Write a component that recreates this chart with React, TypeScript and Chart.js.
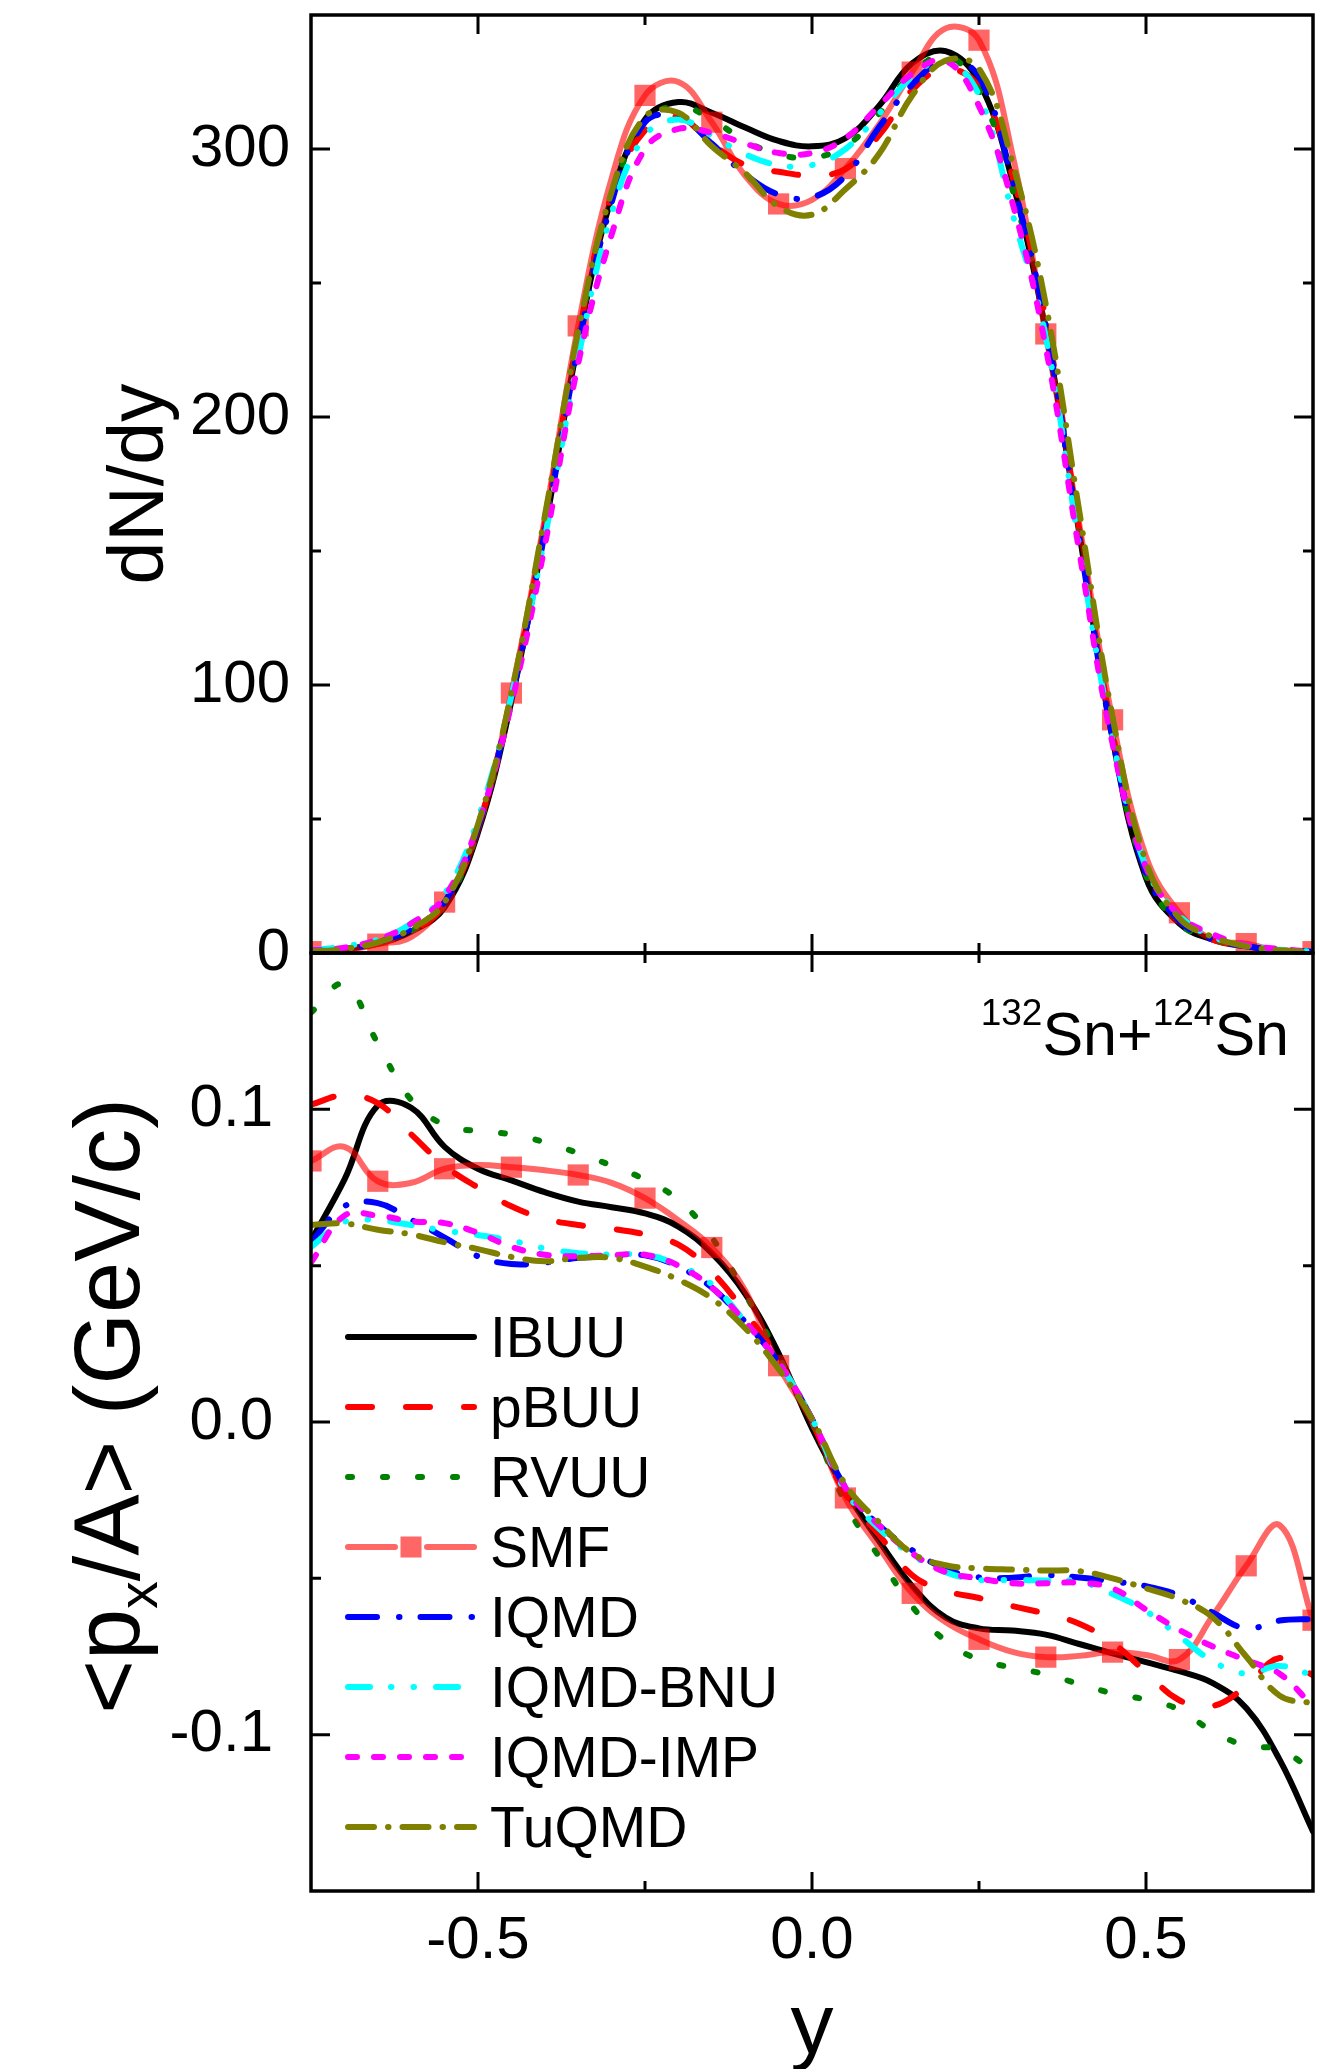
import React, { useEffect, useRef } from "react";
import { Chart, registerables } from "chart.js";

Chart.register(...registerables);

const W = 1337;
const H = 2069;
const FONT = "'Liberation Sans', Arial, Helvetica, sans-serif";

// ---------------- data ----------------
const rapidity = [
  -0.75, -0.7, -0.65, -0.6, -0.55, -0.5, -0.45, -0.4, -0.35, -0.3, -0.25, -0.2, -0.15, -0.1, -0.05, 0,
  0.05, 0.1, 0.15, 0.2, 0.25, 0.3, 0.35, 0.4, 0.45, 0.5, 0.55, 0.6, 0.65, 0.7, 0.75,
];

const modelNames = ["IBUU", "pBUU", "RVUU", "SMF", "IQMD", "IQMD-BNU", "IQMD-IMP", "TuQMD"];

// dN/dy (upper panel)
const dndyIBUU = [0.5, 1.5, 3.5, 8, 17, 45, 94, 158, 228, 282, 311, 317.5, 313.5, 308, 303, 301, 304, 316, 332, 336.5, 325, 288, 232, 157, 80, 28, 11, 5, 2.5, 1, 0.3];
const dndyPBUU = [0.5, 1.5, 3.5, 8, 18, 47, 96, 160, 230, 283, 307, 312, 302, 294, 291.5, 290.2, 292.5, 305, 322, 330, 323, 290, 236, 158, 82, 30, 12, 5, 2.5, 1, 0.3];
const dndyRVUU = [0.5, 1.5, 3.5, 8, 18, 46, 95, 160, 230, 282, 310, 316, 311, 303, 298, 296.8, 301, 313, 328, 335, 322, 285, 234, 157, 81, 29, 11, 5, 2.5, 1, 0.3];
const dndySMF = [0.5, 1, 3.3, 6, 19, 46, 97, 162, 234, 289, 320, 325, 310, 290, 279.5, 281, 292.7, 309, 328.7, 345, 340.6, 298, 231, 160, 87, 36, 15, 5, 3.5, 0.8, 0.5];
const dndyIQMD = [0.5, 1.5, 4, 9, 19, 47, 95, 157, 226, 280, 310, 312, 302, 290.5, 283, 282, 290, 308, 324, 333, 327, 288, 234, 155, 80, 30, 12, 5, 2.5, 1, 0.5];
const dndyIQMDBNU = [1, 2.5, 5, 11, 22, 50, 96, 155, 222, 276, 305, 311, 305, 298, 294, 294, 300, 313, 327, 333, 320, 276, 230, 152, 80, 32, 14, 6, 3, 1.2, 0.5];
const dndyIQMDIMP = [1, 2, 5, 11, 21, 48, 93, 152, 220, 268, 300, 307.5, 306, 302, 298.5, 298.5, 304, 316, 328, 333, 316, 280, 226, 150, 78, 32, 14, 7, 3, 1.5, 0.5];
const dndyTuQMD = [0.5, 1.5, 4, 9, 19, 48, 97, 163, 232, 284, 312, 313.5, 301, 291, 278.5, 275.5, 285, 298, 320, 333, 330, 295, 242, 165, 88, 34, 13, 6, 2.5, 1, 0.3];

// <px/A> (lower panel)
const pxIBUU = [0.058, 0.0775, 0.1012, 0.1005, 0.088, 0.081, 0.0773, 0.0735, 0.0705, 0.0687, 0.0667, 0.0625, 0.054, 0.041, 0.022, -0.002, -0.022, -0.038, -0.0525, -0.0625, -0.066, -0.0667, -0.068, -0.071, -0.074, -0.0768, -0.0797, -0.0835, -0.0915, -0.108, -0.131];
const pxPBUU = [0.1015, 0.1045, 0.102, 0.092, 0.082, 0.075, 0.069, 0.065, 0.063, 0.0618, 0.06, 0.0567, 0.048, 0.035, 0.02, 0.0, -0.023, -0.036, -0.049, -0.054, -0.0563, -0.0589, -0.0613, -0.0645, -0.0706, -0.08, -0.089, -0.0908, -0.0845, -0.0755, -0.081];
const pxRVUU = [0.131, 0.14, 0.121, 0.103, 0.095, 0.093, 0.092, 0.0895, 0.086, 0.082, 0.0775, 0.071, 0.059, 0.041, 0.021, 0.0, -0.026, -0.043, -0.059, -0.07, -0.076, -0.0785, -0.0807, -0.0838, -0.0868, -0.0888, -0.092, -0.099, -0.1035, -0.1048, -0.1115];
const pxSMF = [0.0835, 0.088, 0.077, 0.0765, 0.081, 0.0822, 0.0815, 0.0805, 0.079, 0.0765, 0.0716, 0.0645, 0.0558, 0.042, 0.018, 0.0, -0.0243, -0.04, -0.0548, -0.064, -0.0695, -0.0735, -0.0752, -0.0748, -0.0736, -0.0745, -0.076, -0.062, -0.046, -0.033, -0.0634];
const pxIQMD = [0.0575, 0.069, 0.07, 0.0647, 0.059, 0.053, 0.0505, 0.051, 0.0525, 0.053, 0.0533, 0.0497, 0.043, 0.032, 0.019, 0.001, -0.021, -0.033, -0.041, -0.047, -0.0497, -0.0498, -0.049, -0.0497, -0.051, -0.0525, -0.0555, -0.061, -0.066, -0.0635, -0.063];
const pxIQMDBNU = [0.056, 0.064, 0.0645, 0.063, 0.0612, 0.0598, 0.058, 0.0555, 0.054, 0.0535, 0.0535, 0.0502, 0.044, 0.032, 0.019, 0.001, -0.022, -0.034, -0.0425, -0.048, -0.0505, -0.0505, -0.0507, -0.051, -0.055, -0.0605, -0.0685, -0.0765, -0.0805, -0.078, -0.081];
const pxIQMDIMP = [0.051, 0.066, 0.066, 0.0642, 0.0636, 0.0605, 0.056, 0.0535, 0.053, 0.0533, 0.0535, 0.05, 0.043, 0.032, 0.019, 0.001, -0.021, -0.033, -0.042, -0.048, -0.05, -0.0516, -0.0516, -0.0514, -0.0532, -0.06, -0.0665, -0.0718, -0.0762, -0.0805, -0.091];
const pxTuQMD = [0.063, 0.0635, 0.0615, 0.06, 0.0575, 0.0553, 0.0528, 0.0514, 0.0525, 0.0525, 0.0497, 0.0455, 0.0395, 0.03, 0.017, 0.001, -0.02, -0.032, -0.042, -0.0458, -0.0468, -0.0472, -0.0475, -0.0477, -0.05, -0.0532, -0.0567, -0.0625, -0.075, -0.0875, -0.09];

const smfMarkerRapidities = [-0.75, -0.65, -0.55, -0.45, -0.35, -0.25, -0.15, -0.05, 0.05, 0.15, 0.25, 0.35, 0.45, 0.55, 0.65, 0.75];

const dndyMajorTicks = [0, 100, 200, 300];
const dndyMinorTicks = [50, 150, 250];
const pxMajorTicks = [-0.1, 0.0, 0.1];
const pxMinorTicks = [-0.05, 0.05];
const rapidityMajorTicks = [-0.5, 0.0, 0.5];
const rapidityMinorTicks = [-0.25, 0.25];

// ---------------- styles ----------------
const modelColors = ["#000000", "#FF0000", "#008000", "rgba(255,0,0,0.6)", "#0000FF", "#00FFFF", "#FF00FF", "#808000"];
const modelDashes = [[], [24, 34], [4, 31], [], [29, 22, 0.5, 21], [22, 21, 0.5, 22, 0.5, 22], [9, 17], [26, 14, 0.5, 14]];

const isMarker = (x: number) => smfMarkerRapidities.some((m) => Math.abs(m - x) < 1e-9);

function buildDatasets(series: number[][]) {
  return modelNames.map((name, i) => ({
    label: name,
    data: rapidity.map((x, j) => ({ x, y: series[i][j] })),
    borderColor: modelColors[i],
    backgroundColor: modelColors[i],
    borderWidth: 6,
    borderDash: modelDashes[i],
    borderCapStyle: "round",
    borderJoinStyle: "round",
    tension: 0.4,
    pointStyle: "rect",
    pointRadius: name === "SMF" ? rapidity.map((x) => (isMarker(x) ? 15 : 0)) : 0,
    pointHoverRadius: 0,
    pointBorderWidth: 0,
    pointBackgroundColor: modelColors[i],
    pointBorderColor: modelColors[i],
    fill: false,
    clip: 0,
    order: modelNames.length - i,
  }));
}

const setTicks = (values: number[]) => (scale: any) => {
  scale.ticks = values.map((v) => ({ value: v }));
};

function framePlugin(xMajor: number[], xMinor: number[], yMajor: number[], yMinor: number[]) {
  return {
    id: "frameTicks",
    afterDatasetsDraw(chart: any) {
      const { ctx, chartArea: a } = chart;
      const xs = chart.scales.x;
      const ys = chart.scales.y;
      ctx.save();
      ctx.strokeStyle = "#000";
      ctx.lineWidth = 3;
      ctx.setLineDash([]);
      ctx.beginPath();
      const vt = (vals: number[], len: number) =>
        vals.forEach((v) => {
          const p = xs.getPixelForValue(v);
          ctx.moveTo(p, a.bottom);
          ctx.lineTo(p, a.bottom - len);
          ctx.moveTo(p, a.top);
          ctx.lineTo(p, a.top + len);
        });
      const ht = (vals: number[], len: number) =>
        vals.forEach((v) => {
          const p = ys.getPixelForValue(v);
          ctx.moveTo(a.left, p);
          ctx.lineTo(a.left + len, p);
          ctx.moveTo(a.right, p);
          ctx.lineTo(a.right - len, p);
        });
      vt(xMajor, 19);
      vt(xMinor, 10);
      ht(yMajor, 19);
      ht(yMinor, 10);
      ctx.stroke();
      ctx.lineWidth = 3.5;
      ctx.strokeRect(a.left, a.top, a.right - a.left, a.bottom - a.top);
      ctx.restore();
    },
  };
}

type Seg = { t: string; s: number; dy: number };
function drawRich(ctx: CanvasRenderingContext2D, segs: Seg[], x: number, y: number, angle: number, align: string) {
  ctx.save();
  ctx.translate(x, y);
  ctx.rotate(angle);
  ctx.fillStyle = "#000";
  ctx.textBaseline = "alphabetic";
  ctx.textAlign = "left";
  const widths = segs.map((s) => {
    ctx.font = `${s.s}px ${FONT}`;
    return ctx.measureText(s.t).width;
  });
  const total = widths.reduce((p, c) => p + c, 0);
  let cx = align === "center" ? -total / 2 : align === "right" ? -total : 0;
  segs.forEach((s, i) => {
    ctx.font = `${s.s}px ${FONT}`;
    ctx.fillText(s.t, cx, s.dy);
    cx += widths[i];
  });
  ctx.restore();
}

const lowerDecorPlugin = {
  id: "lowerDecor",
  afterDraw(chart: any) {
    const { ctx, chartArea: a } = chart;
    // legend
    const x0 = a.left + 37;
    const x1 = a.left + 163;
    const tx = a.left + 179;
    chart.data.datasets.forEach((ds: any, i: number) => {
      const yy = a.top + 384 + i * 70;
      ctx.save();
      ctx.strokeStyle = ds.borderColor;
      ctx.lineWidth = 6;
      ctx.lineCap = "round";
      ctx.setLineDash(ds.borderDash || []);
      ctx.beginPath();
      if (ds.label === "SMF") {
        const mid = (x0 + x1) / 2;
        ctx.moveTo(x0, yy);
        ctx.lineTo(mid - 16, yy);
        ctx.moveTo(mid + 16, yy);
        ctx.lineTo(x1, yy);
        ctx.stroke();
        ctx.fillStyle = ds.pointBackgroundColor;
        ctx.fillRect(mid - 10.5, yy - 10.5, 21, 21);
      } else {
        ctx.moveTo(x0, yy);
        ctx.lineTo(x1, yy);
        ctx.stroke();
      }
      ctx.fillStyle = "#000";
      ctx.font = `57px ${FONT}`;
      ctx.textBaseline = "alphabetic";
      ctx.textAlign = "left";
      ctx.fillText(ds.label, tx, yy + 20);
      ctx.restore();
    });
    // reaction label
    drawRich(
      ctx,
      [
        { t: "132", s: 37, dy: -30 },
        { t: "Sn+", s: 61, dy: 0 },
        { t: "124", s: 37, dy: -30 },
        { t: "Sn", s: 61, dy: 0 },
      ],
      a.right - 24,
      a.top + 102,
      0,
      "right"
    );
    // y-axis title with subscript
    drawRich(
      ctx,
      [
        { t: "<p", s: 92, dy: 0 },
        { t: "x", s: 55, dy: 18 },
        { t: "/A> (GeV/c)", s: 92, dy: 0 },
      ],
      a.left - 172,
      (a.top + a.bottom) / 2 - 16,
      -Math.PI / 2,
      "center"
    );
  },
};

export default function App() {
  const topRef = useRef<HTMLCanvasElement>(null);
  const botRef = useRef<HTMLCanvasElement>(null);

  useEffect(() => {
    Chart.defaults.font.family = FONT;
    Chart.defaults.color = "#000";

    const topSeries = [dndyIBUU, dndyPBUU, dndyRVUU, dndySMF, dndyIQMD, dndyIQMDBNU, dndyIQMDIMP, dndyTuQMD];
    const botSeries = [pxIBUU, pxPBUU, pxRVUU, pxSMF, pxIQMD, pxIQMDBNU, pxIQMDIMP, pxTuQMD];

    const common = {
      animation: false,
      responsive: false,
      maintainAspectRatio: false,
      devicePixelRatio: 1,
      events: [],
    };

    const fitY = (s: any) => {
      s.width = 311;
      s.paddingTop = 0;
      s.paddingBottom = 0;
    };

    const c1 = new Chart(topRef.current as HTMLCanvasElement, {
      type: "line",
      data: { datasets: buildDatasets(topSeries) as any },
      options: {
        ...common,
        layout: { padding: { left: 0, top: 14, right: 24, bottom: H - 953 } },
        plugins: { legend: { display: false }, tooltip: { enabled: false } },
        scales: {
          x: {
            type: "linear",
            min: -0.75,
            max: 0.75,
            afterBuildTicks: setTicks(rapidityMajorTicks),
            afterFit: (s: any) => {
              s.height = 0;
              s.paddingLeft = 0;
              s.paddingRight = 0;
            },
            grid: { display: false, drawTicks: false },
            border: { display: false },
            ticks: { display: false },
          },
          y: {
            type: "linear",
            min: 0,
            max: 350,
            afterBuildTicks: setTicks(dndyMajorTicks),
            afterFit: fitY,
            grid: { display: false, drawTicks: false },
            border: { display: false },
            ticks: {
              padding: 21,
              color: "#000",
              font: { size: 60, family: FONT },
              callback: (v: any) => String(v),
            },
            title: {
              display: true,
              text: "dN/dy",
              color: "#000",
              font: { size: 77, family: FONT },
              padding: { top: 96, bottom: 0 },
            },
          },
        },
      } as any,
      plugins: [framePlugin(rapidityMajorTicks, rapidityMinorTicks, dndyMajorTicks, dndyMinorTicks)],
    });

    const c2 = new Chart(botRef.current as HTMLCanvasElement, {
      type: "line",
      data: { datasets: buildDatasets(botSeries) as any },
      options: {
        ...common,
        layout: { padding: { left: 0, top: 953, right: 24, bottom: 0 } },
        plugins: { legend: { display: false }, tooltip: { enabled: false } },
        scales: {
          x: {
            type: "linear",
            min: -0.75,
            max: 0.75,
            afterBuildTicks: setTicks(rapidityMajorTicks),
            afterFit: (s: any) => {
              s.height = H - 1891;
              s.paddingLeft = 0;
              s.paddingRight = 0;
            },
            grid: { display: false, drawTicks: false },
            border: { display: false },
            ticks: {
              padding: 14,
              autoSkip: false,
              maxRotation: 0,
              minRotation: 0,
              color: "#000",
              font: { size: 60, family: FONT },
              callback: (v: any) => Number(v).toFixed(1),
            },
            title: {
              display: true,
              text: "y",
              color: "#000",
              font: { size: 86, family: FONT },
              padding: { top: 0, bottom: -12 },
            },
          },
          y: {
            type: "linear",
            min: -0.15,
            max: 0.15,
            afterBuildTicks: setTicks(pxMajorTicks),
            afterFit: fitY,
            grid: { display: false, drawTicks: false },
            border: { display: false },
            ticks: {
              padding: 38,
              color: "#000",
              font: { size: 60, family: FONT },
              callback: (v: any) => Number(v).toFixed(1),
            },
          },
        },
      } as any,
      plugins: [framePlugin(rapidityMajorTicks, rapidityMinorTicks, pxMajorTicks, pxMinorTicks), lowerDecorPlugin],
    });

    return () => {
      c1.destroy();
      c2.destroy();
    };
  }, []);

  return (
    <div style={{ position: "absolute", left: 0, top: 0, width: W, height: H, background: "#fff", overflow: "hidden" }}>
      <canvas ref={topRef} width={W} height={H} style={{ position: "absolute", left: 0, top: 0, width: W, height: H }} />
      <canvas ref={botRef} width={W} height={H} style={{ position: "absolute", left: 0, top: 0, width: W, height: H }} />
    </div>
  );
}
